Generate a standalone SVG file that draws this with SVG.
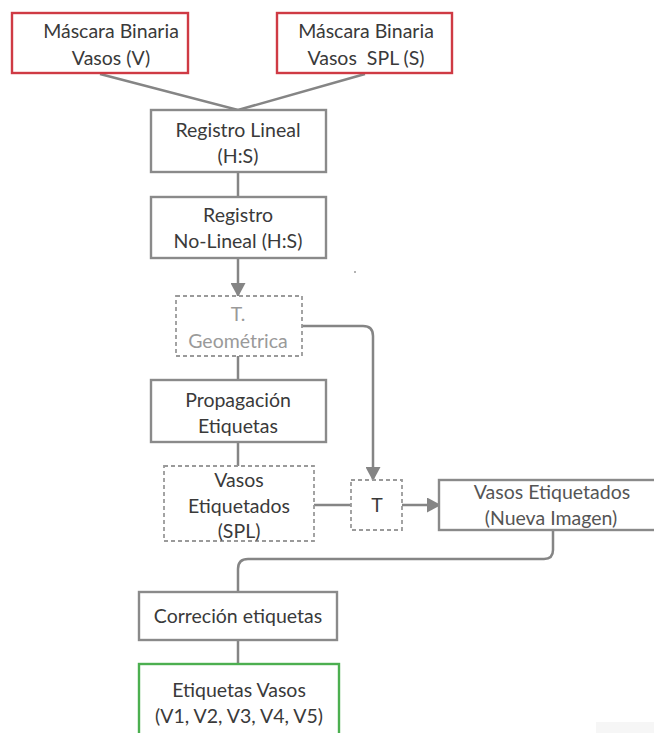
<svg xmlns="http://www.w3.org/2000/svg" width="654" height="733" viewBox="0 0 654 733">
  <style>
    .box { fill: #ffffff; stroke: #8a8a8a; stroke-width: 2.4; }
    .dash { fill: #ffffff; stroke: #9a9a9a; stroke-width: 1.8; stroke-dasharray: 4 3; }
    .red { fill: #ffffff; stroke: #cf3a44; stroke-width: 2.4; }
    .green { fill: #ffffff; stroke: #4caf50; stroke-width: 2.4; }
    .lbl { font-family: Lato, "Open Sans", sans-serif; font-size: 19.5px; fill: #3a3a3a; text-anchor: middle; }
    .faint { fill: #9a9a9a; }
    .soft { fill: #555555; }
    .edge { fill: none; stroke: #858585; stroke-width: 2.5; }
  </style>
  <defs>
    <marker id="arrow" viewBox="0 0 14 15" refX="13" refY="7.5" markerWidth="14" markerHeight="15" orient="auto" markerUnits="userSpaceOnUse">
      <path d="M0,0 L14,7.5 L0,15 Z" fill="#858585"/>
    </marker>
  </defs>
  <rect width="654" height="733" fill="#ffffff"/>
  <rect x="596" y="722" width="58" height="11" fill="#f6f6f6"/>
  <circle cx="355" cy="272" r="1" fill="#9a9a9a"/>

  <g id="connectors">
    <path class="edge" d="M100,74 L238,110 L365,74"/>
    <path class="edge" d="M238,172 L238,197"/>
    <path class="edge" d="M238,258 L238,296" marker-end="url(#arrow)"/>
    <path class="edge" d="M302,326 L363,326 Q373,326 373,336 L373,480" marker-end="url(#arrow)"/>
    <path class="edge" d="M238,356 L238,380"/>
    <path class="edge" d="M238,442 L238,466"/>
    <path class="edge" d="M314,505 L351,505"/>
    <path class="edge" d="M402,505 L440,505" marker-end="url(#arrow)"/>
    <path class="edge" d="M553,530 L553,550 Q553,559 544,559 L248,559 Q238,559 238,569 L238,592"/>
    <path class="edge" d="M238,640 L238,664"/>
  </g>

  <g id="mask-v">
    <rect class="red" x="12" y="13" width="176" height="60"/>
    <text class="lbl" x="111" y="38">Máscara Binaria</text>
    <text class="lbl" x="111" y="65">Vasos (V)</text>
  </g>
  <g id="mask-s">
    <rect class="red" x="277" y="13" width="175" height="60"/>
    <text class="lbl" x="366" y="38">Máscara Binaria</text>
    <text class="lbl" x="366" y="65" xml:space="preserve">Vasos  SPL (S)</text>
  </g>
  <g id="reg-lineal">
    <rect class="box" x="151" y="110" width="175" height="62"/>
    <text class="lbl" x="238" y="137">Registro Lineal</text>
    <text class="lbl" x="238" y="163">(H:S)</text>
  </g>
  <g id="reg-nolineal">
    <rect class="box" x="151" y="197" width="175" height="61"/>
    <text class="lbl" x="238" y="222">Registro</text>
    <text class="lbl" x="238" y="248">No-Lineal (H:S)</text>
  </g>
  <g id="t-geo">
    <rect class="dash" x="176" y="296" width="126" height="60"/>
    <text class="lbl faint" x="238" y="321">T.</text>
    <text class="lbl faint" x="238" y="348">Geométrica</text>
  </g>
  <g id="propagacion">
    <rect class="box" x="151" y="380" width="175" height="62"/>
    <text class="lbl" x="238" y="407">Propagación</text>
    <text class="lbl" x="238" y="433">Etiquetas</text>
  </g>
  <g id="vasos-spl">
    <rect class="dash" x="164" y="466" width="150" height="75"/>
    <text class="lbl" x="239" y="487">Vasos</text>
    <text class="lbl" x="239" y="513">Etiquetados</text>
    <text class="lbl" x="239" y="538">(SPL)</text>
  </g>
  <g id="t">
    <rect class="dash" x="351" y="480" width="51" height="50"/>
    <text class="lbl" x="377" y="512">T</text>
  </g>
  <g id="vasos-nueva">
    <rect class="box" x="439" y="480" width="220" height="50"/>
    <text class="lbl soft" x="552" y="499">Vasos Etiquetados</text>
    <text class="lbl soft" x="551" y="525">(Nueva Imagen)</text>
  </g>
  <g id="correccion">
    <rect class="box" x="139" y="592" width="198" height="48"/>
    <text class="lbl" x="238" y="623">Correción etiquetas</text>
  </g>
  <g id="etiquetas-vasos">
    <rect class="green" x="139" y="664" width="200" height="75"/>
    <text class="lbl" x="239" y="697">Etiquetas Vasos</text>
    <text class="lbl" x="239" y="723">(V1, V2, V3, V4, V5)</text>
  </g>
</svg>
